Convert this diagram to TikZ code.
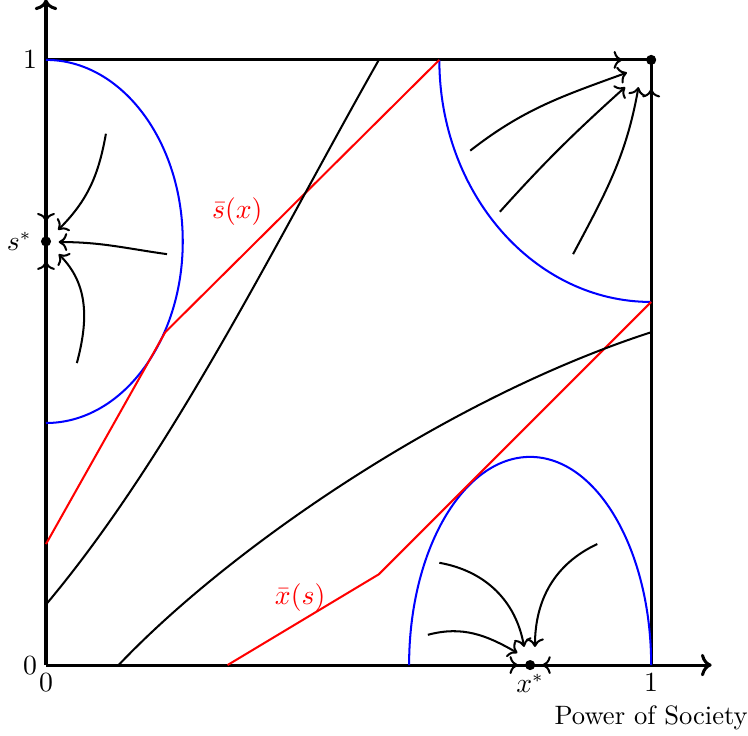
\documentclass[tikz,border=0pt]{standalone}
\usepackage{amsmath, amssymb}
\usepackage{tikz}
\usetikzlibrary{arrows.meta, positioning, calc}

\begin{document}
\begin{tikzpicture}[
    x=8.4cm, y=8.4cm,
    font=\fontsize{10.5pt}{12.8pt}\selectfont,
    axisline/.style={very thick, ->},
    boxline/.style={very thick},
    basin/.style={blue, thick},
    thresh/.style={red, thick},
    orbit/.style={thick},
    flow/.style={thick, ->},
    fixed/.style={circle, fill=black, inner sep=0pt, minimum size=4pt},
]
    \useasboundingbox (-0.076,-0.117) rectangle (1.160,1.099);

    % Axes and unit box
    \coordinate (O) at (0,0);
    \draw[axisline] (O) -- (1.1,0);
    \draw[axisline] (O) -- (0,1.1);
    \draw[boxline] (0,1) -- (1,1) -- (1,0);

    \node[left] at (0,1) {$1$};
    \node[left] at (O) {$0$};
    \node[below] at (O) {$0$};
    \node[below, align=center] at (1,0) {$1$\\Power of Society};

    % Basins (blue)
    \draw[basin] (0,1) arc[start angle=90, end angle=-90, x radius=0.226, y radius=0.3];
    \draw[basin] (0.65,1) arc[start angle=180, end angle=270, x radius=0.35, y radius=0.4];
    \draw[basin] (0.6,0) arc[start angle=180, end angle=0, x radius=0.2, y radius=0.344];

    % Thresholds (red)
    \draw[thresh] (0,0.2) -- (0.197,0.55) -- (0.65,1);
    \draw[thresh] (0.3,0) -- (0.55,0.15) -- (1,0.6);
    \node[red] at (0.316,0.749) {$\bar{s}(x)$};
    \node[red] at (0.42,0.112) {$\bar{x}(s)$};

    % Separating curves
    \draw[orbit] (0,0.1) .. controls (0.21,0.35) and (0.38,0.7) .. (0.55,1);
    \draw[orbit] (0.12,0) .. controls (0.3,0.19) and (0.66,0.44) .. (1,0.55);

    % Fixed points
    \node[fixed] (sstar) at (0,0.7) {};
    \node[fixed] (xstar) at (0.8,0) {};
    \node[fixed] (top) at (1,1) {};
    \node[left=0pt of sstar] {$s^*$};
    \node[below] at (xstar.center) {$x^*$};

    % Flow along the edges
    \draw[flow] (0,0.8) -- (0,0.733);
    \draw[flow] (0,0.6) -- (0,0.667);
    \draw[flow] (0.7,0) -- (0.78,0);
    \draw[flow] (0.9,0) -- (0.82,0);
    \draw[flow] (0.9,1) -- (0.952,1);
    \draw[flow] (1,0.9) -- (1,0.952);

    % Flow towards s*
    \draw[flow] (0.099,0.878) to[out=-100, in=45] (0.020,0.719);
    \draw[flow] (0.200,0.679) to[out=172, in=0] (0.021,0.699);
    \draw[flow] (0.051,0.499) to[out=75, in=-45] (0.021,0.679);

    % Flow towards (1,1)
    \draw[flow] (0.701,0.850) to[out=38, in=200] (0.960,0.979);
    \draw[flow] (0.750,0.749) to[out=48, in=222] (0.957,0.955);
    \draw[flow] (0.871,0.679) to[out=62, in=-100] (0.979,0.955);

    % Flow towards x*
    \draw[flow] (0.631,0.050) to[out=15, in=150] (0.779,0.020);
    \draw[flow] (0.650,0.169) to[out=-10, in=100] (0.790,0.030);
    \draw[flow] (0.911,0.200) to[out=205, in=90] (0.808,0.030);
\end{tikzpicture}
\end{document}
